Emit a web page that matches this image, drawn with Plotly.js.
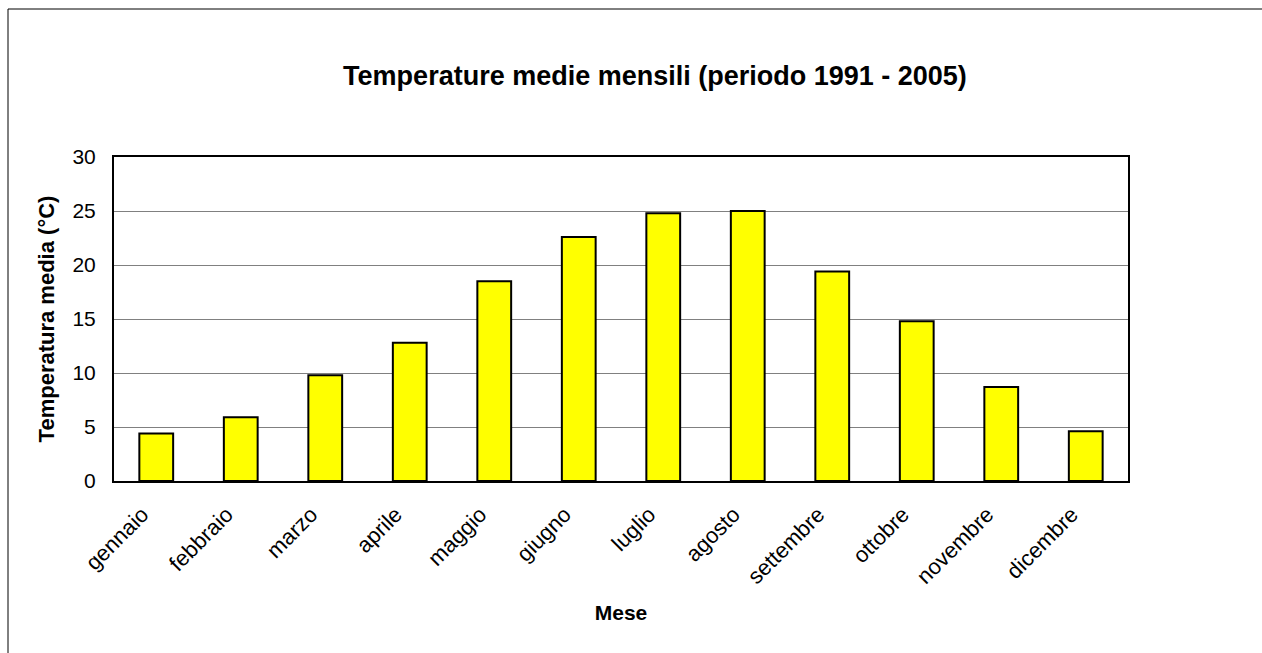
<!DOCTYPE html>
<html>
<head>
<meta charset="utf-8">
<script src="https://cdn.plot.ly/plotly-3.0.1.min.js"></script>
<style>
  html, body { margin: 0; padding: 0; background: #ffffff; }
  #chart { width: 1262px; height: 653px; }
</style>
</head>
<body>
<div id="chart"></div>
<script>
const months = ["gennaio", "febbraio", "marzo", "aprile", "maggio", "giugno",
                "luglio", "agosto", "settembre", "ottobre", "novembre", "dicembre"];
const temperatures = [4.4, 5.9, 9.8, 12.8, 18.5, 22.6, 24.8, 25.0, 19.4, 14.8, 8.7, 4.6];
const yTicks = [0, 5, 10, 15, 20, 25, 30];

const FONT = "Liberation Sans, Arial, sans-serif";

const trace = {
  type: "bar",
  x: months,
  y: temperatures,
  marker: { color: "#FFFF00", line: { color: "#000000", width: 2 } },
  hoverinfo: "x+y"
};

const layout = {
  width: 1262,
  height: 653,
  margin: { l: 114, r: 134, t: 157, b: 172 },
  paper_bgcolor: "#ffffff",
  plot_bgcolor: "#ffffff",
  bargap: 0.6,
  showlegend: false,
  font: { family: FONT, color: "#000000" },
  title: {
    text: "<b>Temperature medie mensili (periodo 1991 - 2005)</b>",
    font: { family: FONT, size: 27, color: "#000000" },
    x: 0.519, xref: "container", xanchor: "center",
    y: 1 - 76 / 653, yref: "container", yanchor: "middle"
  },
  xaxis: {
    type: "category",
    tickangle: -45,
    tickfont: { family: FONT, size: 22, color: "#000000" },
    ticks: "outside", ticklen: 10, tickcolor: "rgba(0,0,0,0)",
    ticklabelshift: -14,
    showline: true, linecolor: "#000000", linewidth: 2, mirror: true,
    showgrid: false,
    title: { text: "<b>Mese</b>", font: { family: FONT, size: 21, color: "#000000" }, standoff: 17 },
    automargin: false
  },
  yaxis: {
    range: [0, 30],
    tickvals: yTicks,
    ticktext: yTicks.map(String),
    tickfont: { family: FONT, size: 21, color: "#000000" },
    ticks: "outside", ticklen: 12, tickcolor: "rgba(0,0,0,0)",
    showline: true, linecolor: "#000000", linewidth: 2, mirror: true,
    showgrid: true, gridcolor: "#808080", gridwidth: 1,
    zeroline: false,
    title: { text: "<b>Temperatura media (°C)</b>", font: { family: FONT, size: 22, color: "#000000" }, standoff: 12 },
    automargin: false
  },
  shapes: [{
    type: "rect", xref: "paper", yref: "paper",
    x0: (8 - 114) / 1014, x1: (1300 - 114) / 1014,
    y0: -(700 - 481) / 324, y1: 1 + (157 - 9) / 324,
    line: { color: "#000000", width: 1 },
    fillcolor: "rgba(0,0,0,0)",
    layer: "below"
  }]
};

Plotly.newPlot("chart", [trace], layout, { displayModeBar: false, staticPlot: true });
</script>
</body>
</html>
